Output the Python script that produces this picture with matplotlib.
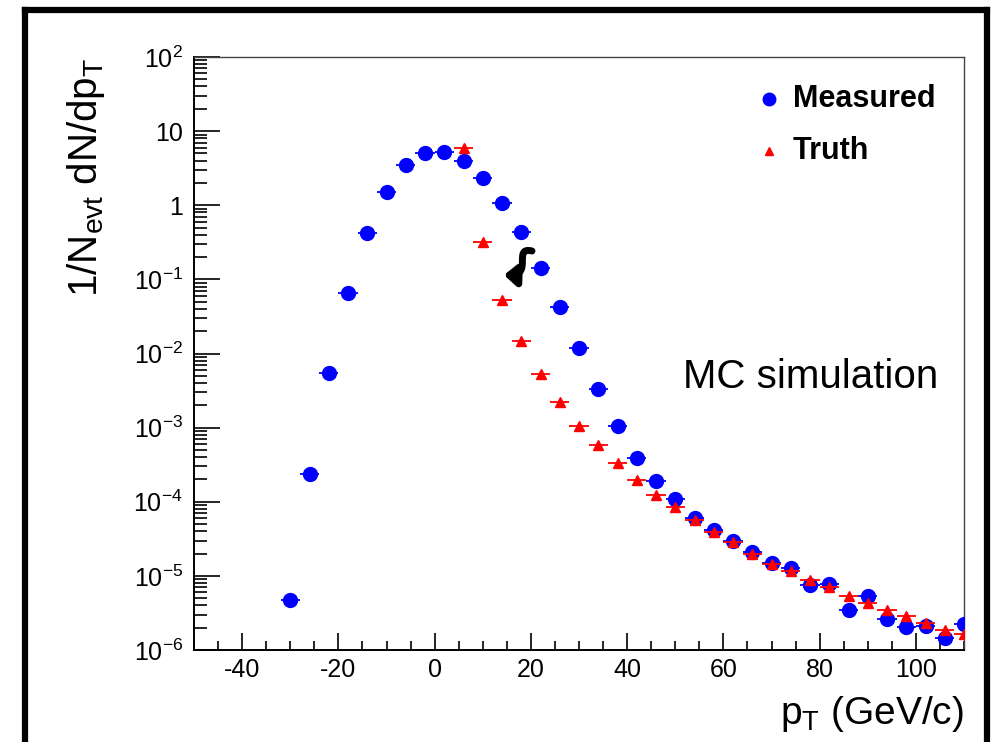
import math
import matplotlib
matplotlib.use('Agg')
import matplotlib.pyplot as plt
from matplotlib.lines import Line2D
from matplotlib.path import Path
from matplotlib.patches import FancyArrowPatch
from matplotlib.ticker import FixedLocator, LogLocator, FuncFormatter, NullFormatter

plt.rcParams['font.family'] = ['Liberation Sans', 'DejaVu Sans']
plt.rcParams['mathtext.default'] = 'regular'
plt.rcParams['axes.unicode_minus'] = False

# bin centres (GeV/c) and yields
measured_x = [-30, -26, -22, -18, -14, -10, -6, -2, 2, 6, 10, 14, 18, 22, 26, 30,
              34, 38, 42, 46, 50, 54, 58, 62, 66, 70, 74, 78, 82, 86, 90, 94,
              98, 102, 106, 110]
measured_y = [4.8e-6, 2.4e-4, 5.5e-3, 0.066, 0.425, 1.52, 3.5, 5.1, 5.3, 3.95,
              2.35, 1.08, 0.44, 0.144, 0.0427, 0.0117, 3.3e-3, 1.05e-3, 3.9e-4,
              1.9e-4, 1.1e-4, 6.1e-5, 4.1e-5, 3.0e-5, 2.1e-5, 1.5e-5, 1.28e-5,
              7.5e-6, 7.7e-6, 3.5e-6, 5.4e-6, 2.6e-6, 2.05e-6, 2.1e-6, 1.43e-6,
              2.23e-6]

truth_x = [6, 10, 14, 18, 22, 26, 30, 34, 38, 42, 46, 50, 54, 58, 62, 66, 70,
           74, 78, 82, 86, 90, 94, 98, 102, 106, 110]
truth_y = [5.97, 0.321, 0.0526, 0.0148, 5.27e-3, 2.23e-3, 1.06e-3, 5.8e-4,
           3.29e-4, 1.96e-4, 1.25e-4, 8.4e-5, 5.65e-5, 3.85e-5, 2.85e-5, 1.96e-5,
           1.43e-5, 1.17e-5, 8.9e-6, 7.1e-6, 5.4e-6, 4.24e-6, 3.44e-6, 2.86e-6,
           2.28e-6, 1.85e-6, 1.62e-6]

half_bin = 2
x_ticks = [-40, -20, 0, 20, 40, 60, 80, 100]
y_ticks = [1e-6, 1e-5, 1e-4, 1e-3, 1e-2, 1e-1, 1, 10, 100]


def y_label_fmt(v, pos):
    if v == 1:
        return '1'
    if v == 10:
        return '10'
    return '$10^{%d}$' % int(round(math.log10(v)))


fig = plt.figure(figsize=(9.96, 7.42), dpi=100)
ax = fig.add_axes([194 / 996, 92 / 742, 770 / 996, 593 / 742])

ax.errorbar(measured_x, measured_y, xerr=half_bin, fmt='o', color='blue',
            ms=10, elinewidth=1.3, capsize=0, zorder=3)
ax.errorbar(truth_x, truth_y, xerr=half_bin, fmt='^', color='red',
            ms=7, elinewidth=1.3, capsize=0, zorder=4)

ax.set_yscale('log')
ax.set_xlim(-50, 110)
ax.set_ylim(1e-6, 1e2)

ax.xaxis.set_major_locator(FixedLocator(x_ticks))
ax.xaxis.set_minor_locator(FixedLocator(list(range(-50, 111, 5))))
ax.yaxis.set_major_locator(FixedLocator(y_ticks))
ax.yaxis.set_minor_locator(LogLocator(base=10, subs=[2, 3, 4, 5, 6, 7, 8, 9], numticks=20))
ax.yaxis.set_major_formatter(FuncFormatter(y_label_fmt))
ax.yaxis.set_minor_formatter(NullFormatter())

ax.tick_params(which='both', direction='in', top=False, right=False, width=1.2,
               labelsize=18, color='black')
ax.tick_params(axis='y', which='major', length=18.5, pad=8)
ax.tick_params(axis='y', which='minor', length=9.5)
ax.tick_params(axis='x', which='major', length=12, pad=6)
ax.tick_params(axis='x', which='minor', length=6.5)
for side in ['left', 'bottom']:
    ax.spines[side].set_linewidth(1.4)
for side in ['top', 'right']:
    ax.spines[side].set_linewidth(1.0)
    ax.spines[side].set_color('#444444')

# axis titles in ROOT style (at the ends of the axes)
fig.text(86 / 996, 1 - 58 / 742, '1/N$_{evt}$ dN/dp$_{T}$', rotation=90,
         ha='center', va='top', fontsize=29)
fig.text(964 / 996, 18 / 742, 'p$_{T}$ (GeV/c)', ha='right', va='baseline',
         fontsize=28)

fig.text(683 / 996, 1 - 377 / 742, 'MC simulation', ha='left', va='center',
         fontsize=29)

# legend drawn by hand so the marker/label spacing matches
fig.add_artist(Line2D([769 / 996], [1 - 99 / 742], transform=fig.transFigure,
                      ls='none', marker='o', color='blue', ms=9))
fig.add_artist(Line2D([769 / 996], [1 - 151 / 742], transform=fig.transFigure,
                      ls='none', marker='^', color='red', ms=6))
fig.text(793 / 996, 1 - 99 / 742, 'Measured', ha='left', va='center',
         fontsize=22, fontweight='bold')
fig.text(793 / 996, 1 - 151 / 742, 'Truth', ha='left', va='center',
         fontsize=22, fontweight='bold')

# little curly arrow between the two curves
arrow_path = Path([((532 - 194) / 770, (650 - 251) / 593),
                   ((512 - 194) / 770, (650 - 246) / 593),
                   ((534 - 194) / 770, (650 - 276) / 593),
                   ((504 - 194) / 770, (650 - 275) / 593)],
                  [Path.MOVETO, Path.CURVE4, Path.CURVE4, Path.CURVE4])
ax.add_patch(FancyArrowPatch(path=arrow_path, transform=ax.transAxes,
                             arrowstyle='-|>,head_length=7,head_width=6',
                             lw=5, color='black', zorder=5))

# black slide frame around the plot
frame_kw = dict(transform=fig.transFigure, color='black', lw=4.5,
                solid_capstyle='projecting')
fig.add_artist(Line2D([25 / 996, 25 / 996], [0, 1 - 10 / 742], **frame_kw))
fig.add_artist(Line2D([25 / 996, 987 / 996], [1 - 10 / 742, 1 - 10 / 742], **frame_kw))
fig.add_artist(Line2D([987 / 996, 987 / 996], [0, 1 - 10 / 742], **frame_kw))

fig.savefig('out.png', dpi=100)
